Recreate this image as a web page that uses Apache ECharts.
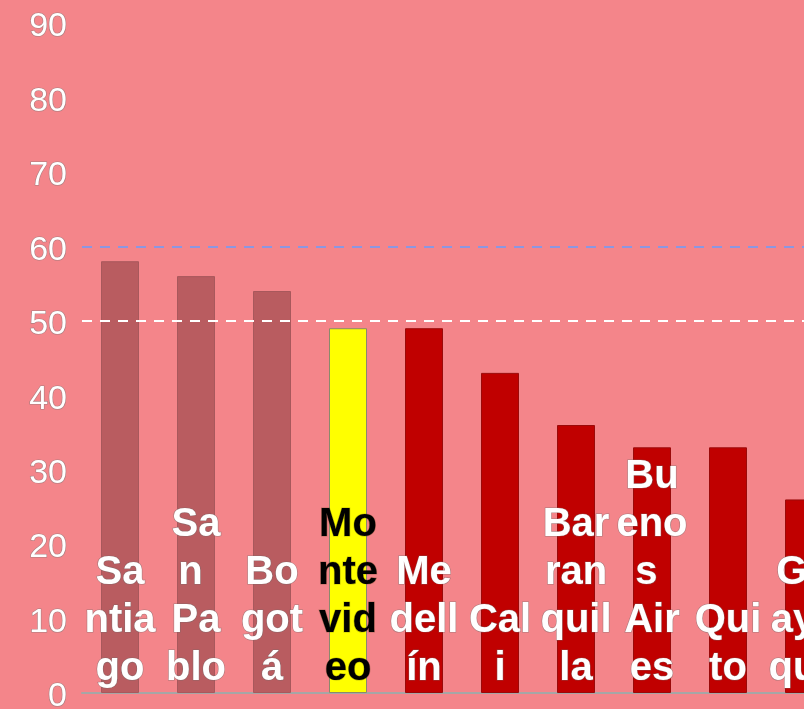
<!DOCTYPE html>
<html>
<head>
<meta charset="utf-8">
<script src="https://cdn.jsdelivr.net/npm/echarts@6/dist/echarts.min.js"></script>
<style>
html,body{margin:0;padding:0;background:#F4858A;overflow:hidden;width:804px;height:709px;}
#chart{width:842px;height:709px;}
</style>
</head>
<body>
<div id="chart"></div>
<script>
const categories = ['Santiago','San Pablo','Bogotá','Montevideo','Medellín','Cali','Barranquilla','Buenos Aires','Quito','Guayaquil'];
const values = [58, 56, 54, 49, 49, 43, 36, 33, 33, 26];
const groups = ['muted','muted','muted','highlight','main','main','main','main','main','main'];
const yTicks = [0, 10, 20, 30, 40, 50, 60, 70, 80, 90];
const refLines = [60, 50];

const styles = {
  muted: {color: '#B95C60', borderColor: '#A8585C', label: '#FFFFFF'},
  highlight: {color: '#FFFF00', borderColor: '#8A8A6A', label: '#000000'},
  main: {color: '#C00000', borderColor: '#9A0A0A', label: '#FFFFFF'}
};

const data = values.map((v, i) => {
  const s = styles[groups[i]];
  return {
    value: v,
    itemStyle: {color: s.color, borderColor: s.borderColor, borderWidth: 1},
    label: {color: s.label, textBorderColor: groups[i] === 'highlight' ? 'rgba(60,60,0,0.3)' : 'rgba(110,110,110,0.55)'}
  };
});

const chart = echarts.init(document.getElementById('chart'));
chart.setOption({
  backgroundColor: '#F4858A',
  animation: false,
  grid: {left: 82, right: 0, top: 23, bottom: 16, containLabel: false, outerBoundsMode: 'none'},
  xAxis: {
    type: 'category',
    data: categories,
    axisLine: {show: true, lineStyle: {color: '#A6A6A6', width: 2}},
    axisTick: {show: false},
    axisLabel: {show: false}
  },
  yAxis: {
    type: 'value',
    min: yTicks[0],
    max: yTicks[yTicks.length - 1],
    interval: 10,
    axisLine: {show: false},
    axisTick: {show: false},
    splitLine: {show: false},
    axisLabel: {
      fontFamily: 'Liberation Sans',
      fontSize: 34,
      color: '#FFFFFF',
      textBorderColor: 'rgba(120,120,120,0.6)',
      textBorderWidth: 1.2,
      margin: 15,
      verticalAlign: 'top',
      lineHeight: 8
    }
  },
  series: [{
    type: 'bar',
    data: data,
    barWidth: 38,
    label: {
      show: true,
      position: 'insideBottom',
      distance: 0,
      formatter: '{b}',
      fontFamily: 'Liberation Sans',
      fontWeight: 'bold',
      fontSize: 40,
      lineHeight: 48,
      width: 72.2,
      overflow: 'break',
      align: 'center',
      textBorderWidth: 1.2
    },
    markLine: {
      silent: true,
      symbol: 'none',
      label: {show: false},
      data: [
        {yAxis: refLines[0], lineStyle: {color: '#8C96E0', type: [10, 8], width: 2}},
        {yAxis: refLines[1], lineStyle: {color: '#FFFFFF', type: [10, 8], width: 2}}
      ]
    }
  }]
});
</script>
</body>
</html>
